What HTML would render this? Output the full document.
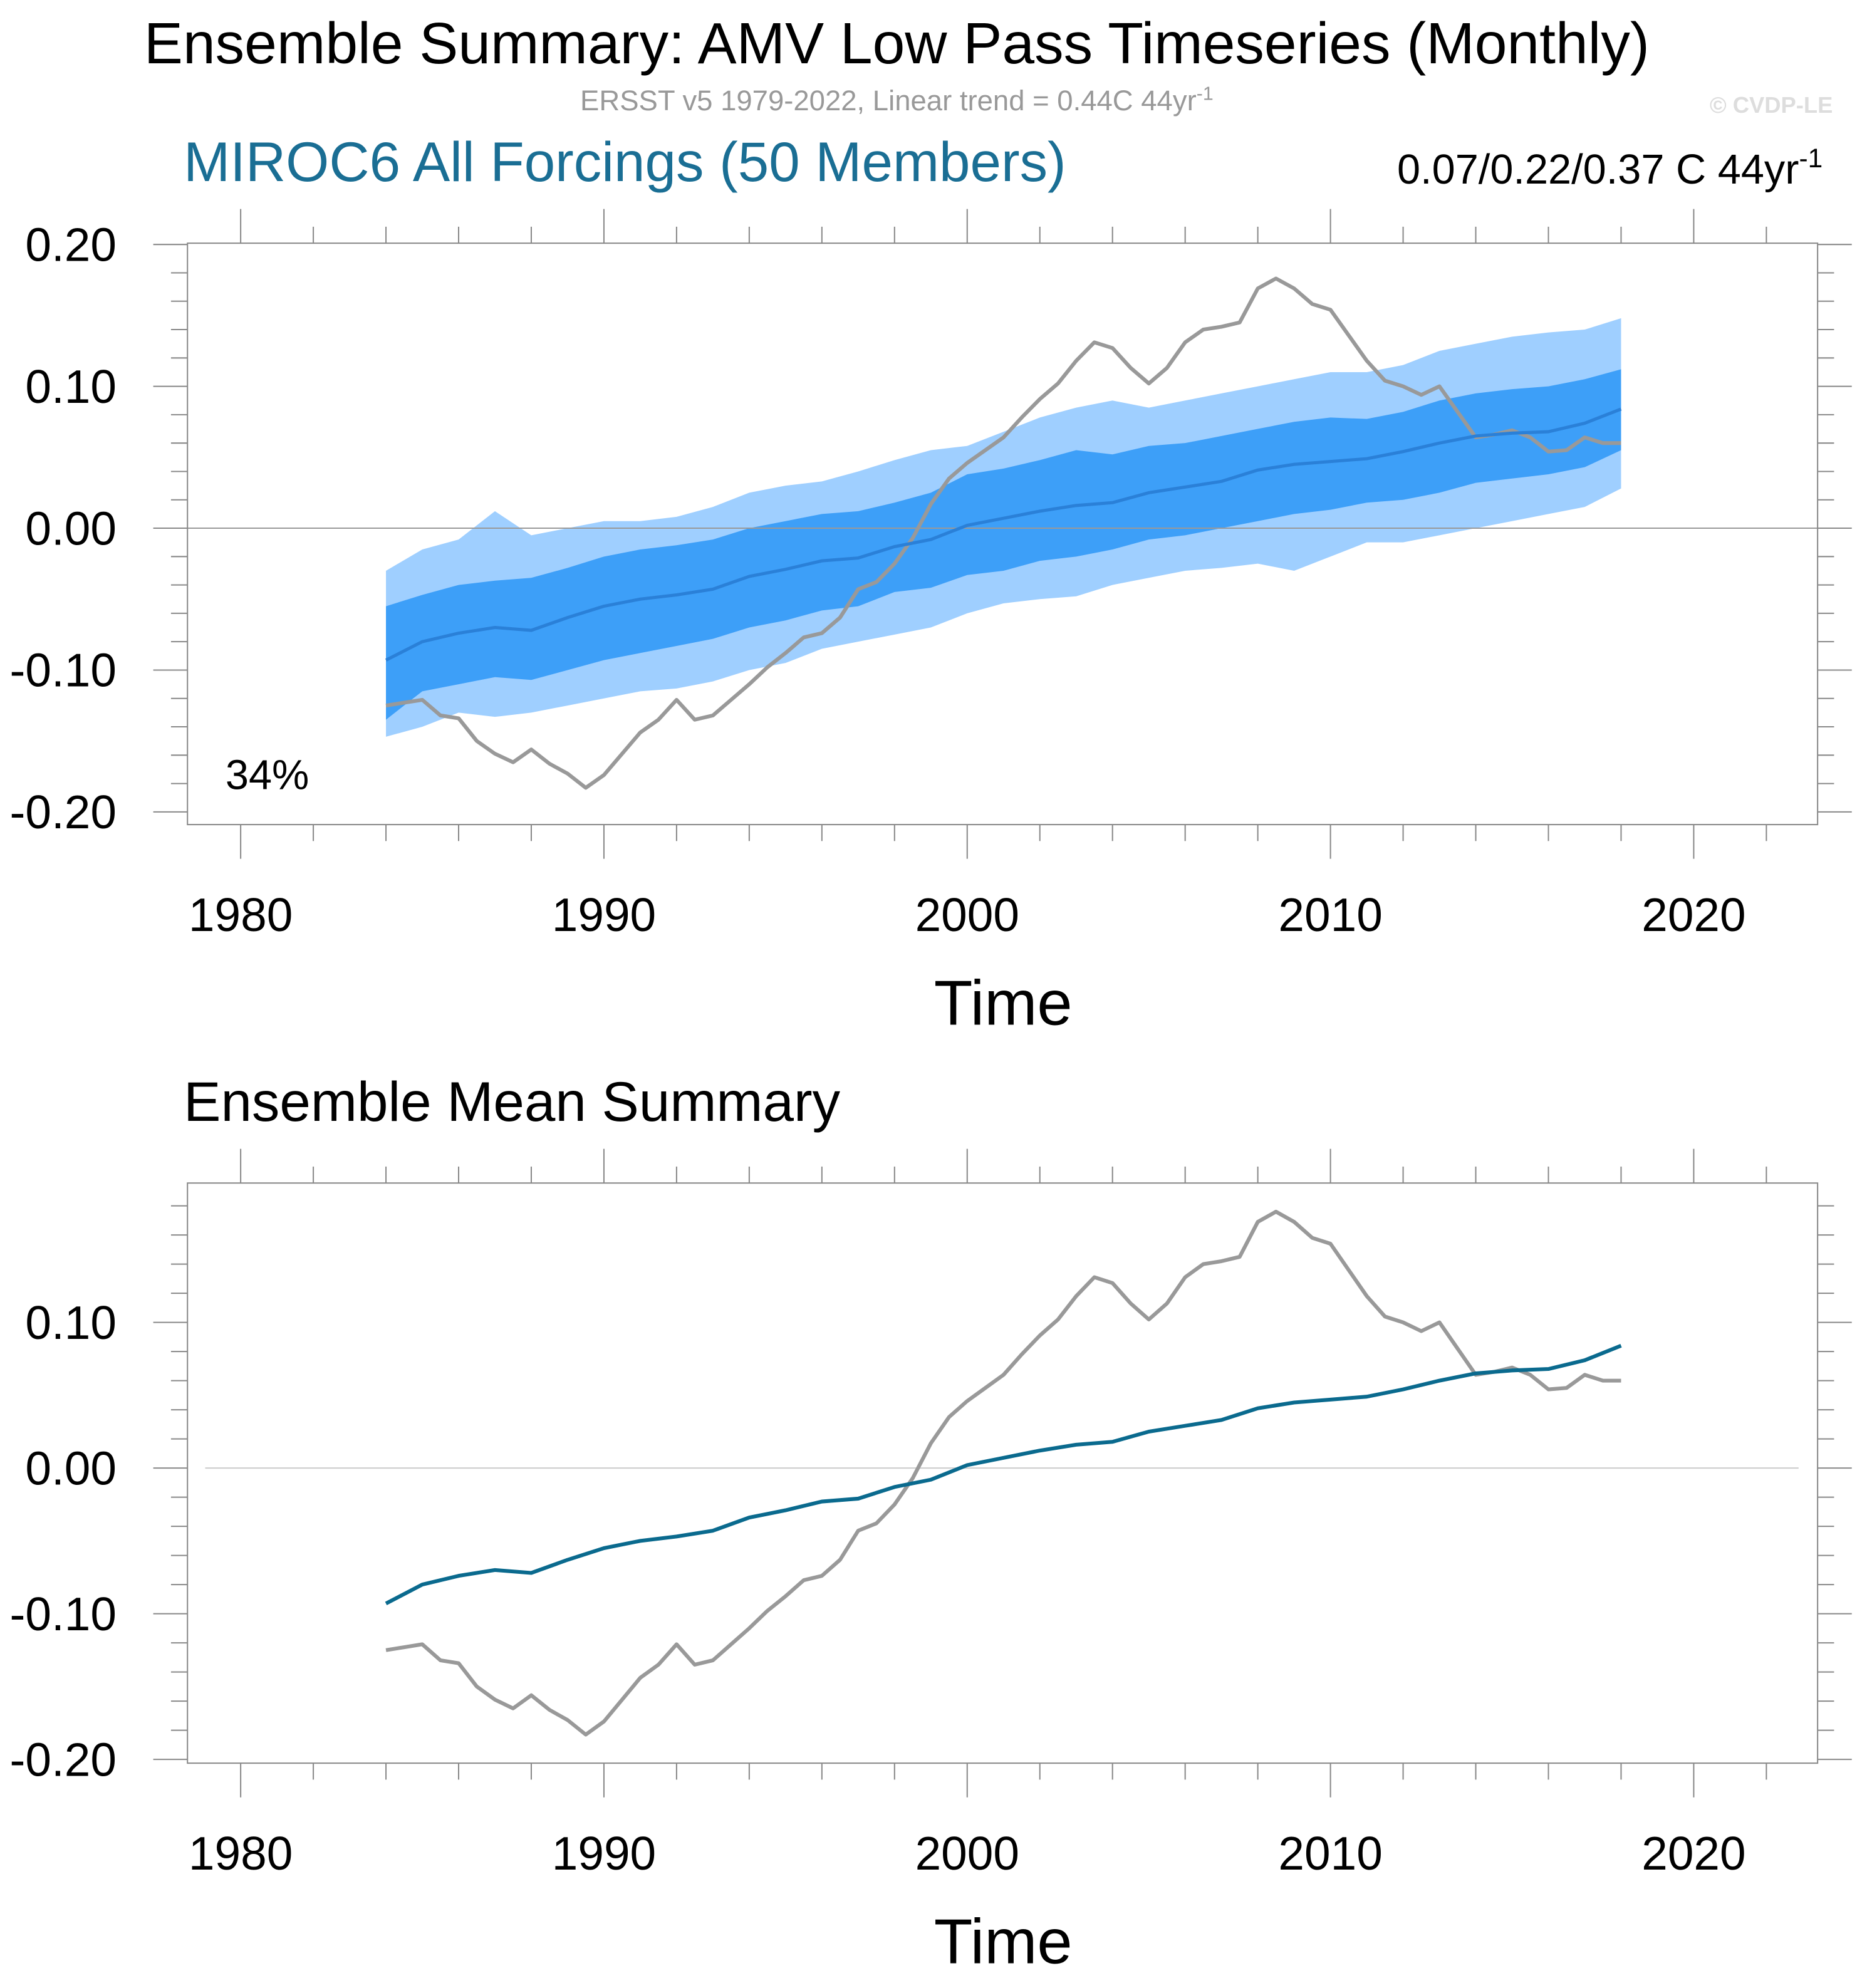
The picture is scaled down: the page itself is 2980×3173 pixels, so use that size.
<!DOCTYPE html>
<html><head><meta charset="utf-8"><style>
html,body{margin:0;padding:0;background:#fff;}
svg{display:block;font-family:"Liberation Sans",sans-serif;}
</style></head><body>
<svg id="chart" xmlns="http://www.w3.org/2000/svg" width="2980" height="3173" viewBox="0 0 1474 1569.5" preserveAspectRatio="none">
<text x="708" y="50" font-size="46" text-anchor="middle" fill="#000">Ensemble Summary: AMV Low Pass Timeseries (Monthly)</text>
<text x="708" y="87" font-size="22.5" text-anchor="middle" fill="#999">ERSST v5 1979-2022, Linear trend = 0.44C 44yr<tspan dy="-8" font-size="15">-1</tspan></text>
<text x="1447" y="89" font-size="18" font-weight="bold" text-anchor="end" fill="#ddd">© CVDP-LE</text>
<text x="145" y="143" font-size="44" fill="#1a6e94">MIROC6 All Forcings (50 Members)</text>
<text x="1439" y="145" font-size="33" text-anchor="end" fill="#000">0.07/0.22/0.37 C 44yr<tspan dy="-13" font-size="21">-1</tspan></text>
<text x="178" y="623" font-size="33" fill="#000">34%</text>
<text x="145" y="885" font-size="44" fill="#000">Ensemble Mean Summary</text>
<g id="p1"></g>
<g id="p2"></g>
</svg>
<script>
const years = [1984,1985,1986,1987,1988,1989,1990,1991,1992,1993,1994,1995,1996,1997,1998,1999,2000,2001,2002,2003,2004,2005,2006,2007,2008,2009,2010,2011,2012,2013,2014,2015,2016,2017,2018];
const ensMean = [-0.093,-0.080,-0.074,-0.070,-0.072,-0.063,-0.055,-0.050,-0.047,-0.043,-0.034,-0.029,-0.023,-0.021,-0.013,-0.008,0.002,0.007,0.012,0.016,0.018,0.025,0.029,0.033,0.041,0.045,0.047,0.049,0.054,0.060,0.065,0.067,0.068,0.074,0.084];
const darkUpper = [-0.055,-0.047,-0.040,-0.037,-0.035,-0.028,-0.020,-0.015,-0.012,-0.008,0.000,0.005,0.010,0.012,0.018,0.025,0.038,0.042,0.048,0.055,0.052,0.058,0.060,0.065,0.070,0.075,0.078,0.077,0.082,0.090,0.095,0.098,0.100,0.105,0.112];
const darkLower = [-0.135,-0.115,-0.110,-0.105,-0.107,-0.100,-0.093,-0.088,-0.083,-0.078,-0.070,-0.065,-0.058,-0.055,-0.045,-0.042,-0.033,-0.030,-0.023,-0.020,-0.015,-0.008,-0.005,0.000,0.005,0.010,0.013,0.018,0.020,0.025,0.032,0.035,0.038,0.043,0.055];
const lightUpper = [-0.030,-0.015,-0.008,0.012,-0.005,0.000,0.005,0.005,0.008,0.015,0.025,0.030,0.033,0.040,0.048,0.055,0.058,0.068,0.078,0.085,0.090,0.085,0.090,0.095,0.100,0.105,0.110,0.110,0.115,0.125,0.130,0.135,0.138,0.140,0.148];
const lightLower = [-0.147,-0.140,-0.130,-0.133,-0.130,-0.125,-0.120,-0.115,-0.113,-0.108,-0.100,-0.095,-0.085,-0.080,-0.075,-0.070,-0.060,-0.053,-0.050,-0.048,-0.040,-0.035,-0.030,-0.028,-0.025,-0.030,-0.020,-0.010,-0.010,-0.005,0.000,0.005,0.010,0.015,0.028];
const obsYears = [1984,1984.5,1985,1985.5,1986,1986.5,1987,1987.5,1988,1988.5,1989,1989.5,1990,1990.5,1991,1991.5,1992,1992.5,1993,1993.5,1994,1994.5,1995,1995.5,1996,1996.5,1997,1997.5,1998,1998.5,1999,1999.5,2000,2000.5,2001,2001.5,2002,2002.5,2003,2003.5,2004,2004.5,2005,2005.5,2006,2006.5,2007,2007.5,2008,2008.5,2009,2009.5,2010,2010.5,2011,2011.5,2012,2012.5,2013,2013.5,2014,2014.5,2015,2015.5,2016,2016.5,2017,2017.5,2018];
const obsValues = [-0.125,-0.123,-0.121,-0.132,-0.134,-0.150,-0.159,-0.165,-0.156,-0.166,-0.173,-0.183,-0.174,-0.159,-0.144,-0.135,-0.121,-0.135,-0.132,-0.121,-0.110,-0.098,-0.088,-0.077,-0.074,-0.063,-0.043,-0.038,-0.025,-0.007,0.017,0.035,0.046,0.055,0.064,0.078,0.091,0.102,0.118,0.131,0.127,0.113,0.102,0.113,0.131,0.140,0.142,0.145,0.169,0.176,0.169,0.158,0.154,0.136,0.118,0.104,0.100,0.094,0.100,0.082,0.064,0.066,0.069,0.064,0.054,0.055,0.064,0.060,0.060];
const xTickLabels = ["1980","1990","2000","2010","2020"];
const yTicksTop = [0.2,0.1,0,-0.1,-0.2];
const yTicksBottom = [0.1,0,-0.1,-0.2];

const NS="http://www.w3.org/2000/svg";
function mk(parent,tag,attrs){const e=document.createElementNS(NS,tag);for(const k in attrs)e.setAttribute(k,attrs[k]);parent.appendChild(e);return e;}
const xs = yr => 190 + (yr-1980)*28.68;
function drawPanel(g, top, bottom, y0, ppu, yticks, bands){
  const ys = v => y0 - v*ppu;
  const L=148,R=1435;
  if(bands){
    const poly=(up,lo,fill,name)=>{
      let pts=years.map((y,i)=>xs(y)+","+ys(up[i]));
      pts=pts.concat(years.map((y,i)=>xs(y)+","+ys(lo[i])).reverse());
      const p=mk(g,'polygon',{points:pts.join(' '),fill:fill});
      
      
    };
    poly(lightUpper,lightLower,'#9fcfff','outer-spread-band');
    poly(darkUpper,darkLower,'#3d9ff8','inner-spread-band');
  }
  const zl=mk(g,'line',{x1:bands?L:162,x2:bands?R:1420,y1:ys(0),y2:ys(0),stroke:bands?'#999':'#ccc','stroke-width':1});
  
  
  const ob=mk(g,'polyline',{points:obsYears.map((y,i)=>xs(y)+","+ys(obsValues[i])).join(' '),fill:'none',stroke:'#999','stroke-width':3,'stroke-linejoin':'round'});
  
  
  const em=mk(g,'polyline',{points:years.map((y,i)=>xs(y)+","+ys(ensMean[i])).join(' '),fill:'none',stroke:bands?'#2a80d8':'#0a6a8e','stroke-width':bands?2.5:3,'stroke-linejoin':'round'});
  
  
  const fr=mk(g,'rect',{x:L,y:top,width:R-L,height:bottom-top,fill:'none',stroke:'#888','stroke-width':1});
  
  
  for(let yr=1978; yr<=2024; yr+=2){
    const x=xs(yr); if(x<L||x>R) continue;
    const major=(yr%10===0), len=major?27:13;
    mk(g,'line',{x1:x,x2:x,y1:top,y2:top-len,stroke:'#888','stroke-width':1});
    mk(g,'line',{x1:x,x2:x,y1:bottom,y2:bottom+len,stroke:'#888','stroke-width':1});
  }
  xTickLabels.forEach(l=>{
    const t=mk(g,'text',{x:xs(+l),y:bottom+84,'font-size':37,'text-anchor':'middle',fill:'#000'});
    t.textContent=l;
    
    
  });
  const xt=mk(g,'text',{x:792,y:bottom+158,'font-size':50,'text-anchor':'middle',fill:'#000'});
  xt.textContent='Time';
  
  
  for(let k=-12;k<=12;k++){
    const v=k*0.02, y=ys(v); if(y<top-0.5||y>bottom+0.5) continue;
    const major=(k%5===0), len=major?27:13;
    mk(g,'line',{x1:L,x2:L-len,y1:y,y2:y,stroke:'#888','stroke-width':1});
    mk(g,'line',{x1:R,x2:R+len,y1:y,y2:y,stroke:'#888','stroke-width':1});
  }
  yticks.forEach(v=>{
    const t=mk(g,'text',{x:92,y:ys(v)+13,'font-size':37,'text-anchor':'end',fill:'#000'});
    t.textContent=v.toFixed(2);
    
    
  });
}
drawPanel(document.getElementById('p1'),192,651,417,1120,yTicksTop,true);
drawPanel(document.getElementById('p2'),934,1392,1159,1150,yTicksBottom,false);
</script>
</body></html>
